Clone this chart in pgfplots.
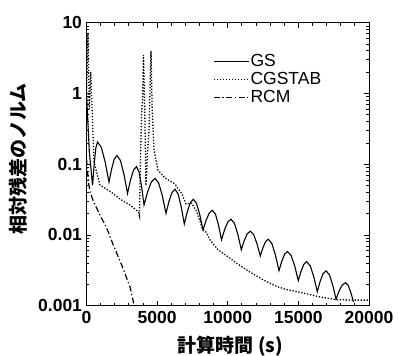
\documentclass[border=0pt]{standalone}
\usepackage{fontspec}
\setmainfont{Liberation Sans}
\newfontfamily\cjk{Noto Sans CJK JP}
\usepackage{pgfplots}
\pgfplotsset{compat=1.18}
\begin{document}
\begin{tikzpicture}
\path[use as bounding box] (-86.5bp,-50.3bp) rectangle (311.5bp,305.7bp);
\begin{axis}[
  scale only axis, width=282.5bp, height=283bp,
  at={(0,0)}, anchor=south west,
  xmin=0, xmax=20000, ymin=0.001, ymax=10, ymode=log,
  xtick={0,5000,10000,15000,20000},
  xticklabels={0,5000,10000,15000,20000},
  minor x tick num=4,
  ytick={0.001,0.01,0.1,1,10},
  yticklabels={0.001,0.01,0.1,1,10},
  scaled x ticks=false,
  tick align=inside,
  major tick length=5bp, minor tick length=3bp,
  axis line style={line width=1bp},
  tick style={line width=0.8bp, black},
  tick label style={font=\fontsize{17.5bp}{19bp}\selectfont\bfseries},
  xticklabel style={yshift=-2bp},
  yticklabel style={xshift=-1bp},
  xlabel={\cjk\bfseries 計算時間 (s)},
  ylabel={\cjk\bfseries 相対残差のノルム},
  xlabel style={font=\fontsize{19bp}{21bp}\selectfont, at={(axis description cs:0.51,-0.142)}, anchor=center},
  ylabel style={font=\fontsize{19bp}{21bp}\selectfont, at={(axis description cs:-0.2425,0.518)}, anchor=center, rotate=0},
  legend style={draw=none, fill=none, at={(axis description cs:0.448,0.895)}, anchor=north west,
    inner sep=0pt, row sep=0pt,
    nodes={font=\fontsize{17.5bp}{19bp}\selectfont, inner sep=1bp, text height=12.5bp, text depth=3.5bp}},
  legend cell align=left,
  legend image code/.code={\draw[#1] (0bp,0bp) -- (35bp,0bp);},
]
\addplot[black, line width=1.1bp] coordinates {
(0,1.0) (200,0.15) (430,0.0501) (546,0.1016) (663,0.1706) (779,0.206) (1050,0.173) (1322,0.1074)
(1593,0.0560) (1782,0.0861) (1970,0.1183) (2159,0.1327) (2407,0.1125) (2655,0.0715)
(2903,0.0386) (3115,0.0598) (3328,0.0824) (3540,0.0927) (3717,0.0783) (3894,0.0495)
(4071,0.0265) (4331,0.0409) (4590,0.0562) (4850,0.0632) (5109,0.0543) (5369,0.0358)
(5628,0.0202) (5840,0.0299) (6053,0.0398) (6265,0.0442) (6485,0.0380) (6704,0.0251)
(6924,0.0143) (7136,0.02135) (7349,0.0286) (7561,0.0319) (7790,0.0279) (8019,0.0194)
(8248,0.01175) (8472,0.0162) (8696,0.0205) (8920,0.0223) (9133,0.0196) (9345,0.0138)
(9558,0.00857) (9782,0.01197) (10006,0.01528) (10230,0.0167) (10473,0.01462) (10716,0.01017)
(10959,0.00619) (11172,0.00836) (11384,0.01042) (11597,0.0113) (11833,0.01014) (12068,0.00755)
(12304,0.00505) (12493,0.00662) (12682,0.00807) (12871,0.00869) (13123,0.00758) (13376,0.00521)
(13628,0.00313) (13829,0.00427) (14029,0.00537) (14230,0.00583) (14485,0.00514) (14740,0.00364)
(14995,0.00227) (15193,0.00308) (15391,0.00386) (15589,0.00419) (15839,0.00367) (16089,0.00257)
(16340,0.00158) (16545,0.00222) (16751,0.00284) (16956,0.00311) (17192,0.00275) (17428,0.00197)
(17664,0.00124) (17888,0.00162) (18112,0.00197) (18336,0.00211) (18525,0.00194) (18714,0.00154)
(18903,0.00113)
};
\addlegendentry{GS}
\addplot[black, line width=1.3bp, dash pattern=on 1.3bp off 1.7bp] coordinates {
(0,1.0) (100,7.0) (200,0.6) (300,2.0) (450,0.3) (531,0.108) (765,0.0703) (956,0.0508)
(1713,0.0408) (2372,0.0322) (3080,0.0265) (3667,0.0213) (3752,0.0185)
(3830,0.15) (3908,0.58) (3970,0.8) (4035,3.49) (4130,0.5) (4210,0.05) (4300,0.12)
(4425,0.3) (4500,1.2) (4566,3.98) (4650,0.6) (4779,0.158) (5062,0.0826) (5558,0.0638)
(6265,0.0525) (6761,0.0379) (7044,0.0274) (7434,0.0283) (7823,0.0211) (8212,0.01213)
(8460,0.0110) (8743,0.00849) (9331,0.00612) (10039,0.00488) (10634,0.00397) (11575,0.00299)
(12517,0.00231) (13466,0.00187) (14173,0.00169) (15349,0.00151) (16531,0.00133)
(17713,0.00122) (18889,0.00120) (20000,0.00120)
};
\addlegendentry{CGSTAB}
\addplot[black, line width=1.2bp, dash pattern=on 6bp off 2.5bp on 1.3bp off 2.5bp] coordinates {
(0,0.12) (120,0.06) (248,0.0405) (481,0.0302) (956,0.0191) (1430,0.01253) (1897,0.00721)
(2492,0.00376) (3080,0.00184) (3384,0.001)
};
\addlegendentry{RCM}
\end{axis}
\end{tikzpicture}
\end{document}
